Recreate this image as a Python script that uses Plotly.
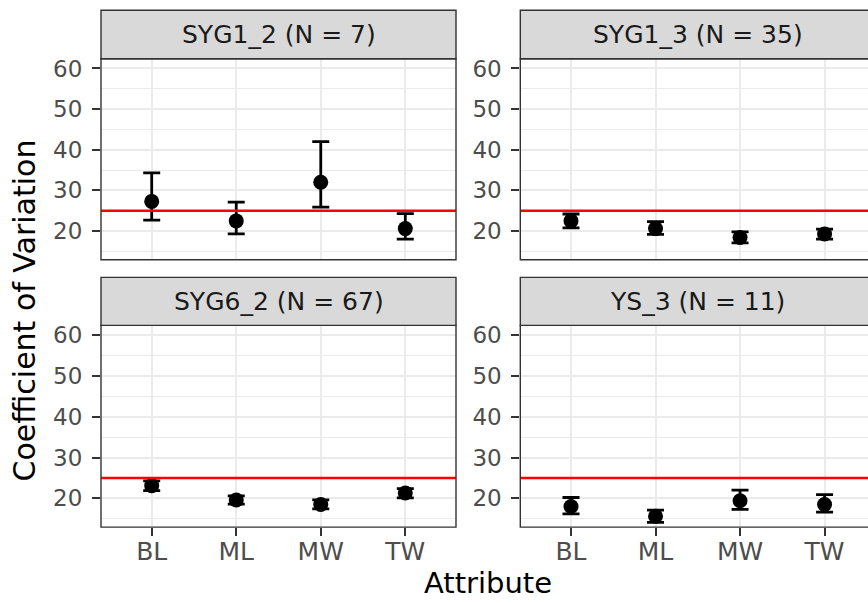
import plotly.graph_objects as go

# ---------------- data ----------------
categories = ["BL", "ML", "MW", "TW"]
panel_titles = ["SYG1_2 (N = 7)", "SYG1_3 (N = 35)", "SYG6_2 (N = 67)", "YS_3 (N = 11)"]

syg1_2_mean = [27.3, 22.5, 32.0, 20.6]
syg1_2_upper = [34.3, 27.1, 42.0, 24.3]
syg1_2_lower = [22.7, 19.3, 25.9, 18.0]

syg1_3_mean = [22.5, 20.6, 18.4, 19.3]
syg1_3_upper = [24.2, 22.3, 19.8, 20.5]
syg1_3_lower = [20.8, 19.2, 17.1, 18.0]

syg6_2_mean = [23.1, 19.6, 18.5, 21.3]
syg6_2_upper = [24.3, 20.6, 19.6, 22.4]
syg6_2_lower = [21.9, 18.6, 17.4, 20.1]

ys_3_mean = [18.0, 15.6, 19.4, 18.5]
ys_3_upper = [20.2, 17.1, 22.0, 20.9]
ys_3_lower = [16.2, 14.1, 17.3, 16.6]

threshold = 25
y_ticks = [20, 30, 40, 50, 60]
y_minor = [15, 25, 35, 45, 55]
x_title = "Attribute"
y_title = "Coefficient of Variation"

means = [syg1_2_mean, syg1_3_mean, syg6_2_mean, ys_3_mean]
uppers = [syg1_2_upper, syg1_3_upper, syg6_2_upper, ys_3_upper]
lowers = [syg1_2_lower, syg1_3_lower, syg6_2_lower, ys_3_lower]

# ---------------- layout geometry ----------------
W, H = 868, 603
FONT = "DejaVu Sans"
x_dom = [[101 / W, 456 / W], [520.3 / W, 1.0]]
x_rng = [[-0.6, 3.6], [-0.6, -0.6 + (W - 520.3) / 84.52]]
x_right_full = 875.3 / W
y_dom = [[1 - 258 / H, 1 - 56 / H], [1 - 526.7 / H, 1 - 324 / H]]
strip_dom = [[1 - 56 / H, 1 - 7.3 / H], [1 - 324 / H, 1 - 275.7 / H]]
y_rng = [12.95, 62.4]

fig = go.Figure()
layout = dict(
    width=W, height=H,
    margin=dict(l=0, r=0, t=0, b=0),
    plot_bgcolor="white", paper_bgcolor="white",
    showlegend=False,
    font=dict(family=FONT, color="#4D4D4D"),
)
shapes = []
annotations = []

for i in range(4):
    row, col = divmod(i, 2)
    ax = "" if i == 0 else str(i + 1)
    xa, ya = "x" + ax, "y" + ax
    m = means[i]
    fig.add_trace(go.Scatter(
        x=categories, y=m, mode="markers",
        marker=dict(color="black", size=15),
        error_y=dict(type="data", symmetric=False,
                     array=[u - v for u, v in zip(uppers[i], m)],
                     arrayminus=[v - l for v, l in zip(m, lowers[i])],
                     color="black", thickness=2.8, width=8.5),
        xaxis=xa, yaxis=ya, cliponaxis=False,
    ))
    bottom = row == 1
    layout["xaxis" + ax] = dict(
        domain=x_dom[col], range=x_rng[col], anchor=ya,
        type="category", categoryorder="array", categoryarray=categories,
        showgrid=True, gridcolor="#EBEBEB", gridwidth=2.2,
        zeroline=False, showline=False,
        ticks="outside" if bottom else "", ticklen=8, tickwidth=2.2, tickcolor="#333333",
        showticklabels=bottom, ticklabelstandoff=-6,
        tickfont=dict(family=FONT, size=25, color="#4D4D4D"),
    )
    layout["yaxis" + ax] = dict(
        domain=y_dom[row], range=y_rng, anchor=xa,
        tickmode="array", tickvals=y_ticks,
        showgrid=True, gridcolor="#EBEBEB", gridwidth=2.2,
        minor=dict(tickmode="array", tickvals=y_minor, showgrid=True,
                   gridcolor="#EBEBEB", gridwidth=1.1, ticks=""),
        zeroline=False, showline=False,
        ticks="outside", ticklen=8, tickwidth=2.2, tickcolor="#333333",
        ticklabelstandoff=5,
        tickfont=dict(family=FONT, size=23, color="#4D4D4D"),
    )
    # red reference line
    shapes.append(dict(type="line", xref=xa + " domain", x0=0, x1=1,
                       yref=ya, y0=threshold, y1=threshold,
                       line=dict(color="#FF0000", width=2.4), layer="above"))
    # panel border
    xr = x_dom[col][1] if col == 0 else x_right_full
    shapes.append(dict(type="rect", xref="paper", yref="paper",
                       x0=x_dom[col][0], x1=xr, y0=y_dom[row][0], y1=y_dom[row][1],
                       line=dict(color="#333333", width=1.4), fillcolor="rgba(0,0,0,0)",
                       layer="above"))
    # strip
    shapes.append(dict(type="rect", xref="paper", yref="paper",
                       x0=x_dom[col][0], x1=xr, y0=strip_dom[row][0], y1=strip_dom[row][1],
                       line=dict(color="#333333", width=1.4), fillcolor="#D9D9D9",
                       layer="above"))
    annotations.append(dict(text=panel_titles[i], xref="paper", yref="paper",
                            x=(x_dom[col][0] + xr) / 2, y=sum(strip_dom[row]) / 2,
                            xanchor="center", yanchor="middle", showarrow=False,
                            font=dict(family=FONT, size=25, color="#1A1A1A")))

annotations.append(dict(text=x_title, xref="paper", yref="paper",
                        x=488 / W, y=1 - 583 / H, xanchor="center", yanchor="middle",
                        showarrow=False, font=dict(family=FONT, size=29, color="black")))
annotations.append(dict(text=y_title, xref="paper", yref="paper",
                        x=24 / W, y=1 - 309 / H, xanchor="center", yanchor="middle",
                        textangle=-90, showarrow=False,
                        font=dict(family=FONT, size=30, color="black")))

layout["shapes"] = shapes
layout["annotations"] = annotations
fig.update_layout(**layout)
fig.write_html("out.html", config={"displayModeBar": False},
               post_script="document.body.style.margin='0';document.body.style.overflow='hidden';")
